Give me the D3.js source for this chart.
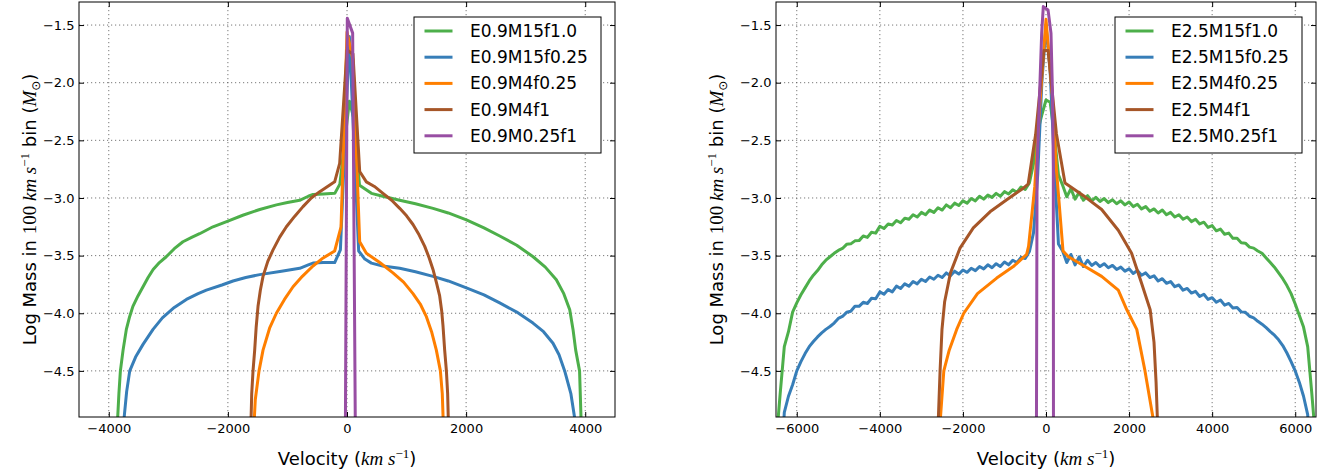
<!DOCTYPE html>
<html>
<head>
<meta charset="utf-8">
<script src="https://cdn.jsdelivr.net/npm/d3@7"></script>
<style>
  html, body { margin: 0; padding: 0; background: #fff; }
  svg { display: block; }
</style>
</head>
<body>
<svg id="chart" width="1327" height="474"></svg>
<script>
// ---------- series names, colours, ticks ----------
const legendLeft  = ["E0.9M15f1.0", "E0.9M15f0.25", "E0.9M4f0.25", "E0.9M4f1", "E0.9M0.25f1"];
const legendRight = ["E2.5M15f1.0", "E2.5M15f0.25", "E2.5M4f0.25", "E2.5M4f1", "E2.5M0.25f1"];
const seriesColors = ["#4daf4a", "#377eb8", "#ff7f00", "#a65628", "#984ea3"];
const xTicksLeft  = [-4000, -2000, 0, 2000, 4000];
const xTicksRight = [-6000, -4000, -2000, 0, 2000, 4000, 6000];
const yTicks = [-4.5, -4.0, -3.5, -3.0, -2.5, -2.0, -1.5];

// ---------- E = 0.9 models: velocity (km/s) and log mass per 100 km/s bin ----------
const e09_m15f10_vel  = [-3860, -3830, -3805, -3760, -3705, -3650, -3595, -3510, -3425, -3340, -3255, -3150, -3035, -2900, -2755, -2600, -2475, -2250, -2000, -1750, -1465, -1185, -1000, -795, -650, -570, -400, -205, -120, 40, 110, 210, 410, 600, 885, 1150, 1445, 1700, 2005, 2300, 2565, 2850, 3125, 3330, 3515, 3640, 3740, 3795, 3840, 3905, 3935];
const e09_m15f10_logm = [-5.0, -4.7, -4.5, -4.32, -4.14, -4.03, -3.94, -3.85, -3.77, -3.69, -3.62, -3.56, -3.51, -3.44, -3.38, -3.34, -3.31, -3.25, -3.20, -3.15, -3.10, -3.06, -3.04, -3.02, -2.985, -2.97, -2.965, -2.96, -2.88, -2.16, -2.30, -2.89, -2.96, -2.985, -3.02, -3.05, -3.09, -3.13, -3.19, -3.26, -3.33, -3.41, -3.51, -3.60, -3.71, -3.83, -3.97, -4.14, -4.32, -4.5, -5.0];

const e09_m15f025_vel  = [-3760, -3700, -3648, -3550, -3425, -3257, -3100, -2900, -2697, -2500, -2361, -2100, -1914, -1700, -1466, -1100, -794, -650, -571, -400, -207, -111, 40, 196, 300, 410, 600, 885, 1150, 1444, 1700, 2005, 2300, 2564, 2850, 3123, 3300, 3459, 3560, 3655, 3760, 3850];
const e09_m15f025_logm = [-5.0, -4.68, -4.5, -4.38, -4.27, -4.14, -4.04, -3.95, -3.88, -3.83, -3.80, -3.755, -3.72, -3.69, -3.665, -3.635, -3.61, -3.58, -3.565, -3.56, -3.56, -3.45, -1.60, -3.46, -3.53, -3.565, -3.59, -3.61, -3.64, -3.68, -3.72, -3.78, -3.84, -3.91, -3.99, -4.085, -4.16, -4.26, -4.36, -4.5, -4.7, -5.0];

const e09_m4f025_vel  = [-1565, -1540, -1477, -1410, -1300, -1186, -1050, -906, -750, -571, -400, -207, -100, 0, 100, 213, 325, 550, 772, 950, 1108, 1230, 1333, 1420, 1500, 1568, 1600, 1620];
const e09_m4f025_logm = [-5.0, -4.75, -4.5, -4.32, -4.13, -4.0, -3.88, -3.77, -3.68, -3.59, -3.52, -3.46, -3.25, -1.56, -1.80, -3.38, -3.48, -3.56, -3.65, -3.73, -3.83, -3.92, -4.03, -4.16, -4.32, -4.5, -4.7, -5.0];

const e09_m4f1_vel  = [-1615, -1600, -1578, -1550, -1525, -1494, -1455, -1410, -1330, -1242, -1130, -1018, -880, -739, -600, -458, -207, -123, 0, 100, 213, 325, 460, 604, 750, 885, 1000, 1108, 1210, 1305, 1380, 1444, 1505, 1556, 1590, 1612, 1640, 1669, 1690, 1705];
const e09_m4f1_logm = [-5.0, -4.7, -4.5, -4.32, -4.12, -3.94, -3.80, -3.68, -3.55, -3.45, -3.34, -3.25, -3.16, -3.075, -3.0, -2.945, -2.86, -2.70, -1.72, -1.75, -2.77, -2.86, -2.90, -2.96, -3.02, -3.09, -3.155, -3.23, -3.32, -3.42, -3.52, -3.62, -3.74, -3.85, -3.98, -4.11, -4.32, -4.5, -4.7, -5.0];

const e09_m025f1_vel  = [-27, 5, 95, 140];
const e09_m025f1_logm = [-5.0, -1.44, -1.57, -5.0];

// ---------- E = 2.5 models ----------
// M15 models are listed bin by bin (100 km/s bins)
const e25_m15f10_vel = d3.range(-6500, 6501, 100);
const e25_m15f10_logm = [
  -5.14, -4.70, -4.29, -4.16, -3.99, -3.91, -3.84, -3.78, -3.72, -3.67,
  -3.63, -3.58, -3.54, -3.51, -3.48, -3.455, -3.438, -3.402, -3.398, -3.372,
  -3.37, -3.33, -3.342, -3.298, -3.305, -3.245, -3.265, -3.225, -3.235, -3.195,
  -3.215, -3.175, -3.185, -3.145, -3.165, -3.125, -3.145, -3.105, -3.125, -3.085,
  -3.105, -3.06, -3.085, -3.045, -3.065, -3.025, -3.045, -3.005, -3.025, -2.985,
  -3.01, -2.975, -2.995, -2.96, -2.985, -2.945, -2.965, -2.93, -2.95, -2.905,
  -2.925, -2.87, -2.70, -2.42, -2.28, -2.15, -2.17, -2.45, -2.80, -2.89,
  -2.99, -2.92, -3.01, -2.95, -3.02, -2.98, -3.025, -2.995, -3.03, -3.005,
  -3.04, -3.015, -3.05, -3.025, -3.06, -3.035, -3.075, -3.055, -3.095, -3.075,
  -3.115, -3.095, -3.13, -3.105, -3.145, -3.125, -3.165, -3.145, -3.185, -3.165,
  -3.205, -3.185, -3.225, -3.21, -3.255, -3.24, -3.285, -3.27, -3.315, -3.305,
  -3.35, -3.35, -3.388, -3.392, -3.426, -3.435, -3.46, -3.48, -3.52, -3.56,
  -3.60, -3.65, -3.70, -3.76, -3.83, -3.92, -4.02, -4.12, -4.29, -4.70,
  -5.14
];

const e25_m15f025_vel = d3.range(-6400, 6401, 100);
const e25_m15f025_logm = [
  -5.5, -4.86, -4.72, -4.62, -4.50, -4.42, -4.35, -4.29, -4.245, -4.205,
  -4.17, -4.14, -4.115, -4.085, -4.045, -4.028, -3.992, -3.983, -3.94, -3.94,
  -3.905, -3.915, -3.87, -3.875, -3.815, -3.835, -3.795, -3.815, -3.765, -3.785,
  -3.745, -3.765, -3.725, -3.745, -3.705, -3.725, -3.685, -3.705, -3.67, -3.69,
  -3.65, -3.675, -3.635, -3.66, -3.625, -3.645, -3.61, -3.63, -3.595, -3.615,
  -3.58, -3.605, -3.57, -3.595, -3.555, -3.58, -3.54, -3.56, -3.515, -3.525,
  -3.465, -3.30, -2.80, -2.00, -1.50, -1.90, -2.70, -3.40, -3.46, -3.56,
  -3.49, -3.58, -3.51, -3.595, -3.54, -3.585, -3.56, -3.595, -3.57, -3.605,
  -3.585, -3.62, -3.60, -3.635, -3.615, -3.655, -3.63, -3.67, -3.65, -3.69,
  -3.675, -3.72, -3.70, -3.74, -3.725, -3.77, -3.755, -3.80, -3.785, -3.825,
  -3.81, -3.855, -3.835, -3.88, -3.865, -3.905, -3.885, -3.93, -3.915, -3.955,
  -3.95, -3.988, -3.992, -4.026, -4.04, -4.07, -4.095, -4.125, -4.16, -4.19,
  -4.23, -4.28, -4.345, -4.42, -4.50, -4.60, -4.72, -4.88, -5.5
];

const e25_m4f025_vel  = [-2560, -2460, -2330, -2150, -1980, -1650, -1187, -787, -466, -420, -270, -150, 0, 150, 250, 410, 540, 940, 1340, 1740, 1946, 2185, 2383, 2620];
const e25_m4f025_logm = [-5.0, -4.5, -4.32, -4.14, -4.0, -3.83, -3.695, -3.595, -3.49, -3.42, -2.9, -2.2, -1.45, -2.1, -2.75, -3.46, -3.51, -3.595, -3.68, -3.80, -3.97, -4.14, -4.5, -5.0];

const e25_m4f1_vel  = [-2600, -2550, -2504, -2440, -2300, -2070, -1750, -1348, -946, -546, -430, -250, -50, 50, 250, 457, 939, 1340, 1740, 2061, 2301, 2508, 2600, 2650, 2690];
const e25_m4f1_logm = [-5.0, -4.5, -4.14, -3.90, -3.65, -3.435, -3.26, -3.12, -3.015, -2.915, -2.88, -2.45, -1.72, -1.72, -2.44, -2.87, -2.99, -3.10, -3.28, -3.48, -3.74, -3.97, -4.25, -4.6, -5.0];

const e25_m025f1_vel  = [-230, -215, -160, -104, -65, 50, 120, 160, 176, 180];
const e25_m025f1_logm = [-5.0, -2.73, -2.15, -1.57, -1.34, -1.37, -1.57, -2.15, -2.73, -5.0];

// ---------- assemble panels ----------
const leftSeries = [
  [e09_m15f10_vel, e09_m15f10_logm],
  [e09_m15f025_vel, e09_m15f025_logm],
  [e09_m4f025_vel, e09_m4f025_logm],
  [e09_m4f1_vel, e09_m4f1_logm],
  [e09_m025f1_vel, e09_m025f1_logm]
];
const rightSeries = [
  [e25_m15f10_vel, e25_m15f10_logm],
  [e25_m15f025_vel, e25_m15f025_logm],
  [e25_m4f025_vel, e25_m4f025_logm],
  [e25_m4f1_vel, e25_m4f1_logm],
  [e25_m025f1_vel, e25_m025f1_logm]
];

const sansFont  = "'DejaVu Sans', Verdana, sans-serif";
const serifFont = "'Liberation Serif', 'DejaVu Serif', serif";

const plotTop = 2, plotBottom = 417;
const panels = [
  { x0: 79,  x1: 615,  domain: [-4500, 4500], ticks: xTicksLeft,  series: leftSeries,  names: legendLeft,  labelX: 36 },
  { x0: 776, x1: 1316, domain: [-6500, 6500], ticks: xTicksRight, series: rightSeries, names: legendRight, labelX: 722.5 }
];

const svg = d3.select("#chart");
const defs = svg.append("defs");

const xLabelParts = [
  { t: "Velocity (" },
  { t: "km s", serif: true, italic: true, size: 19 },
  { t: "\u22121", serif: true, size: 13, dy: -7 },
  { t: ")", dy: 7 }
];
const yLabelParts = [
  { t: "Log Mass in " },
  { t: "100 ", serif: true, size: 19 },
  { t: "km s", serif: true, italic: true, size: 19 },
  { t: "\u22121", serif: true, size: 13, dy: -7 },
  { t: " bin (", dy: 7 },
  { t: "M", serif: true, italic: true, size: 19 },
  { t: "\u2299", size: 12, dy: 4 },
  { t: ")", dy: -4 }
];

function writeParts(text, parts) {
  parts.forEach(p => {
    const ts = text.append("tspan")
      .attr("font-family", p.serif ? serifFont : sansFont)
      .attr("font-style", p.italic ? "italic" : "normal")
      .attr("font-size", p.size || 18)
      .text(p.t);
    if (p.dy) ts.attr("dy", p.dy);
  });
}

panels.forEach((p, pi) => {
  const x = d3.scaleLinear().domain(p.domain).range([p.x0, p.x1]);
  const y = d3.scaleLinear().domain([-4.9, -1.3]).range([plotBottom, plotTop]);
  const g = svg.append("g");

  const clipId = "plot-clip-" + pi;
  defs.append("clipPath").attr("id", clipId).append("rect")
    .attr("x", p.x0).attr("y", plotTop)
    .attr("width", p.x1 - p.x0).attr("height", plotBottom - plotTop);

  // dotted grid
  const grid = g.append("g")
    .attr("stroke", "#555").attr("stroke-width", 0.8).attr("stroke-dasharray", "1.2,2.8");
  grid.selectAll("line.vx").data(p.ticks).join("line").attr("class", "vx")
    .attr("x1", d => x(d)).attr("x2", d => x(d))
    .attr("y1", plotTop).attr("y2", plotBottom);
  grid.selectAll("line.hy").data(yTicks).join("line").attr("class", "hy")
    .attr("x1", p.x0).attr("x2", p.x1)
    .attr("y1", d => y(d)).attr("y2", d => y(d));

  // model curves
  const line = d3.line().x(d => x(d[0])).y(d => y(d[1]));
  g.append("g").attr("clip-path", `url(#${clipId})`)
    .selectAll("path").data(p.series).join("path")
    .attr("d", s => line(d3.zip(s[0], s[1])))
    .attr("fill", "none")
    .attr("stroke", (s, i) => seriesColors[i])
    .attr("stroke-width", 3)
    .attr("stroke-linejoin", "round");

  // axes with inward ticks on all four sides
  const styleAxis = sel => {
    sel.select(".domain").remove();
    sel.selectAll(".tick line").attr("stroke", "#000").attr("stroke-width", 1);
    sel.selectAll(".tick text").attr("fill", "#000")
      .attr("font-family", sansFont).attr("font-size", 13);
  };
  g.append("g").attr("transform", `translate(0,${plotBottom})`)
    .call(d3.axisBottom(x).tickValues(p.ticks).tickSize(-5).tickPadding(6.5).tickFormat(d3.format("d")))
    .call(styleAxis);
  g.append("g").attr("transform", `translate(0,${plotTop})`)
    .call(d3.axisTop(x).tickValues(p.ticks).tickSize(-5).tickFormat(""))
    .call(styleAxis);
  g.append("g").attr("transform", `translate(${p.x0},0)`)
    .call(d3.axisLeft(y).tickValues(yTicks).tickSize(-5).tickPadding(4.5).tickFormat(d3.format(".1f")))
    .call(styleAxis);
  g.append("g").attr("transform", `translate(${p.x1},0)`)
    .call(d3.axisRight(y).tickValues(yTicks).tickSize(-5).tickFormat(""))
    .call(styleAxis);

  // frame
  g.append("rect")
    .attr("x", p.x0).attr("y", plotTop)
    .attr("width", p.x1 - p.x0).attr("height", plotBottom - plotTop)
    .attr("fill", "none").attr("stroke", "#000").attr("stroke-width", 1);

  // legend
  const boxW = 187, boxH = 136, boxRight = p.x1 - 14, boxTop = 17;
  const lg = g.append("g").attr("transform", `translate(${boxRight - boxW},${boxTop})`);
  lg.append("rect").attr("width", boxW).attr("height", boxH)
    .attr("fill", "#fff").attr("stroke", "#000").attr("stroke-width", 1);
  const rows = lg.selectAll("g.row").data(p.names).join("g").attr("class", "row")
    .attr("transform", (d, i) => `translate(0,${14 + i * 26.2})`);
  rows.append("line").attr("x1", 10.5).attr("x2", 38.5)
    .attr("stroke", (d, i) => seriesColors[i]).attr("stroke-width", 3);
  rows.append("text").attr("x", 56).attr("y", 6)
    .attr("font-family", sansFont).attr("font-size", 17).attr("fill", "#000")
    .text(d => d);

  // axis titles
  const xt = g.append("text")
    .attr("x", (p.x0 + p.x1) / 2).attr("y", 464.5)
    .attr("text-anchor", "middle").attr("fill", "#000");
  writeParts(xt, xLabelParts);

  const yt = g.append("text")
    .attr("transform", `translate(${p.labelX},${(plotTop + plotBottom) / 2}) rotate(-90)`)
    .attr("text-anchor", "middle").attr("fill", "#000");
  writeParts(yt, yLabelParts);
});
</script>
</body>
</html>
